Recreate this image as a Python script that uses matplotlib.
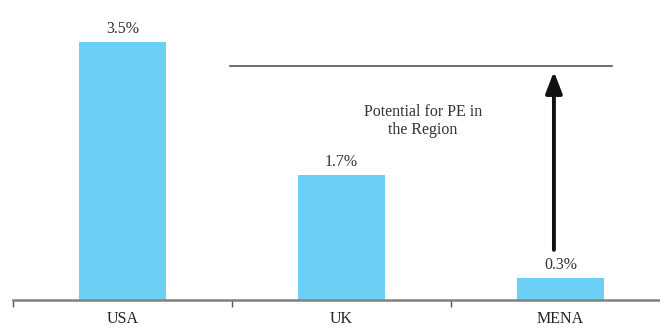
import matplotlib.pyplot as plt
import numpy as np

regions = ['USA', 'UK', 'MENA']
pe_share = [3.5, 1.7, 0.3]
value_labels = ['3.5%', '1.7%', '0.3%']
target_level = 3.17


def main():
    plt.rcParams['font.family'] = ['Liberation Serif', 'DejaVu Serif']

    fig = plt.figure(figsize=(6.6, 3.28), dpi=100)
    ax = fig.add_axes([13 / 660, 28 / 328, 657 / 660, 4 * 73.7 / 328])

    x = np.arange(len(regions))
    bars = ax.bar(x, pe_share, width=0.4, color='#6ccff6', zorder=2)

    for bar, label in zip(bars, value_labels):
        ax.annotate(label,
                    xy=(bar.get_x() + bar.get_width() / 2, bar.get_height()),
                    xytext=(0, 3.5), textcoords='offset points',
                    ha='center', va='bottom', fontsize=11.5, color='#333333')

    # Reference level and the gap arrow for MENA.
    ax.plot([0.49, 2.235], [target_level, target_level],
            color='#555555', lw=1.2)
    ax.annotate('', xy=(1.97, 3.1), xytext=(1.97, 0.68),
                arrowprops=dict(arrowstyle='-|>,head_length=1.3,head_width=0.5',
                                color='#111111', lw=2.8,
                                shrinkA=0, shrinkB=0))
    ax.text(1.372, 2.43, 'Potential for PE in\nthe Region', ha='center',
            va='center', fontsize=11.5, color='#333333', linespacing=1.2)

    ax.set_xlim(-0.5, 2.5)
    ax.set_ylim(0, 4)

    for side in ['top', 'right', 'left']:
        ax.spines[side].set_visible(False)
    ax.spines['bottom'].set_color('#808080')
    ax.spines['bottom'].set_linewidth(1.8)

    ax.set_yticks([])
    ax.set_xticks(x)
    ax.set_xticklabels(regions, fontsize=11.5, color='#222222')
    ax.tick_params(axis='x', which='major', length=0, pad=8)
    ax.set_xticks([-0.5, 0.5, 1.5, 2.5], minor=True)
    ax.tick_params(axis='x', which='minor', length=5, width=1,
                   color='#555555', direction='out')

    fig.savefig('out.png', dpi=100)
    plt.close(fig)


if __name__ == '__main__':
    main()
